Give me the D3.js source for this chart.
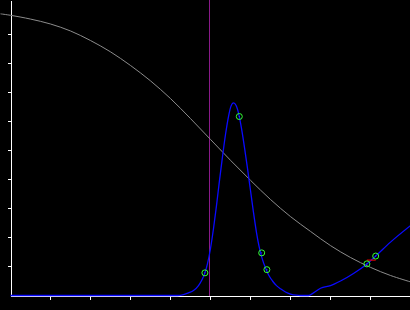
<!DOCTYPE html>
<html>
<head>
<meta charset="utf-8">
<script src="https://cdn.jsdelivr.net/npm/d3@7"></script>
<style>
  html, body { margin: 0; padding: 0; background: #000; }
  svg { display: block; }
</style>
</head>
<body>
<svg id="chart" width="410" height="310"></svg>
<script>
// ---- data ----
const xTicks = [1, 2, 3, 4, 5, 6, 7, 8, 9];
const yTicks = [1, 2, 3, 4, 5, 6, 7, 8, 9];

// decreasing gray curve
const grayX = [-0.25, 0, 0.5, 1, 1.5, 2, 2.5, 3, 3.5, 4, 4.5, 5, 5.5, 6, 6.5, 7, 7.5, 8, 8.5, 9, 9.5, 10];
const grayY = [9.71, 9.66, 9.53, 9.36, 9.12, 8.79, 8.40, 7.93, 7.40, 6.79, 6.10, 5.38, 4.66, 3.97, 3.31, 2.72, 2.21, 1.72, 1.31, 0.97, 0.69, 0.47];

// blue density-like curve
const blueX = [0, 4.175, 4.325, 4.45, 4.575, 4.70, 4.79, 4.86, 4.925, 5.00, 5.075, 5.15, 5.225, 5.30, 5.375, 5.45, 5.51, 5.575, 5.64, 5.72, 5.775, 5.85, 5.925, 6.00, 6.075, 6.15, 6.21, 6.29, 6.375, 6.46, 6.55, 6.65, 6.75, 6.875, 7.00, 7.15, 7.25, 7.45, 7.575, 7.75, 8.00, 8.25, 8.575, 8.91, 9.13, 9.50, 10];
const blueY = [0, 0, 0.03, 0.09, 0.17, 0.34, 0.55, 0.78, 1.10, 1.62, 2.31, 3.10, 3.97, 4.79, 5.55, 6.17, 6.52, 6.64, 6.55, 6.17, 5.76, 5.10, 4.38, 3.62, 2.86, 2.17, 1.72, 1.28, 0.95, 0.69, 0.50, 0.34, 0.23, 0.12, 0.05, 0.01, 0, 0, 0.09, 0.25, 0.34, 0.50, 0.76, 1.09, 1.36, 1.84, 2.41];

// green marker points
const markX = [4.86, 5.72, 6.28, 6.41, 8.91, 9.13];
const markY = [0.78, 6.17, 1.47, 0.89, 1.09, 1.36];

// red connector segment
const redX = [8.91, 9.13];
const redY = [1.22, 1.22];

// vertical marker
const vLineX = 4.975;

// ---- drawing ----
const svg = d3.select("#chart");
svg.append("rect").attr("width", 410).attr("height", 310).attr("fill", "#000");

const x = d3.scaleLinear().domain([0, 10]).range([10.5, 410.5]);
const y = d3.scaleLinear().domain([0, 10.17]).range([295.5, 0.5]);

// axes
const gy = svg.append("g").attr("transform", "translate(10.5,0)")
  .call(d3.axisLeft(y).tickValues(yTicks).tickSize(3).tickSizeOuter(0).tickFormat(() => ""));
const gx = svg.append("g").attr("transform", "translate(0,295.5)")
  .call(d3.axisBottom(x).tickValues(xTicks).tickSize(4).tickSizeOuter(0).tickFormat(() => ""));
[gx, gy].forEach(g => {
  g.selectAll("line").attr("stroke", "#fff").attr("stroke-width", 1);
  g.select(".domain").attr("stroke", "#fff").attr("stroke-width", 1);
  g.attr("shape-rendering", "crispEdges");
});
gy.selectAll(".tick").attr("transform", d => `translate(0,${Math.floor(y(d))})`);
gx.selectAll(".tick").attr("transform", d => `translate(${Math.floor(x(d))},0)`);

// vertical purple line
svg.append("line")
  .attr("x1", x(vLineX)).attr("x2", x(vLineX))
  .attr("y1", 0).attr("y2", y(0))
  .attr("stroke", "#8a1a8a").attr("stroke-width", 1)
  .attr("shape-rendering", "crispEdges");

// gray curve
const grayData = grayX.map((v, i) => [v, grayY[i]]);
svg.append("path")
  .datum(grayData)
  .attr("fill", "none")
  .attr("stroke", "#8c8c8c")
  .attr("stroke-width", 1)
  .attr("d", d3.line().x(d => x(d[0])).y(d => y(d[1])).curve(d3.curveCatmullRom));

// blue curve
const blueData = blueX.map((v, i) => [v, blueY[i]]);
svg.append("path")
  .datum(blueData)
  .attr("fill", "none")
  .attr("stroke", "#0a0aff")
  .attr("stroke-width", 1.3)
  .attr("d", d3.line().x(d => x(d[0])).y(d => y(d[1])).curve(d3.curveMonotoneX));

// red connector
svg.append("line")
  .attr("x1", x(redX[0])).attr("x2", x(redX[1]))
  .attr("y1", y(redY[0])).attr("y2", y(redY[1]))
  .attr("stroke", "#e00000").attr("stroke-width", 1.2);

// green markers
const marks = markX.map((v, i) => [v, markY[i]]);
svg.selectAll("circle.mark").data(marks).enter().append("circle")
  .attr("class", "mark")
  .attr("cx", d => x(d[0])).attr("cy", d => y(d[1]))
  .attr("r", 3)
  .attr("fill", "none")
  .attr("stroke", "#33ff33")
  .attr("stroke-width", 1);
svg.selectAll("circle.dot").data(marks).enter().append("circle")
  .attr("class", "dot")
  .attr("cx", d => x(d[0])).attr("cy", d => y(d[1]))
  .attr("r", 0.6)
  .attr("fill", "#2050ff");
</script>
</body>
</html>
